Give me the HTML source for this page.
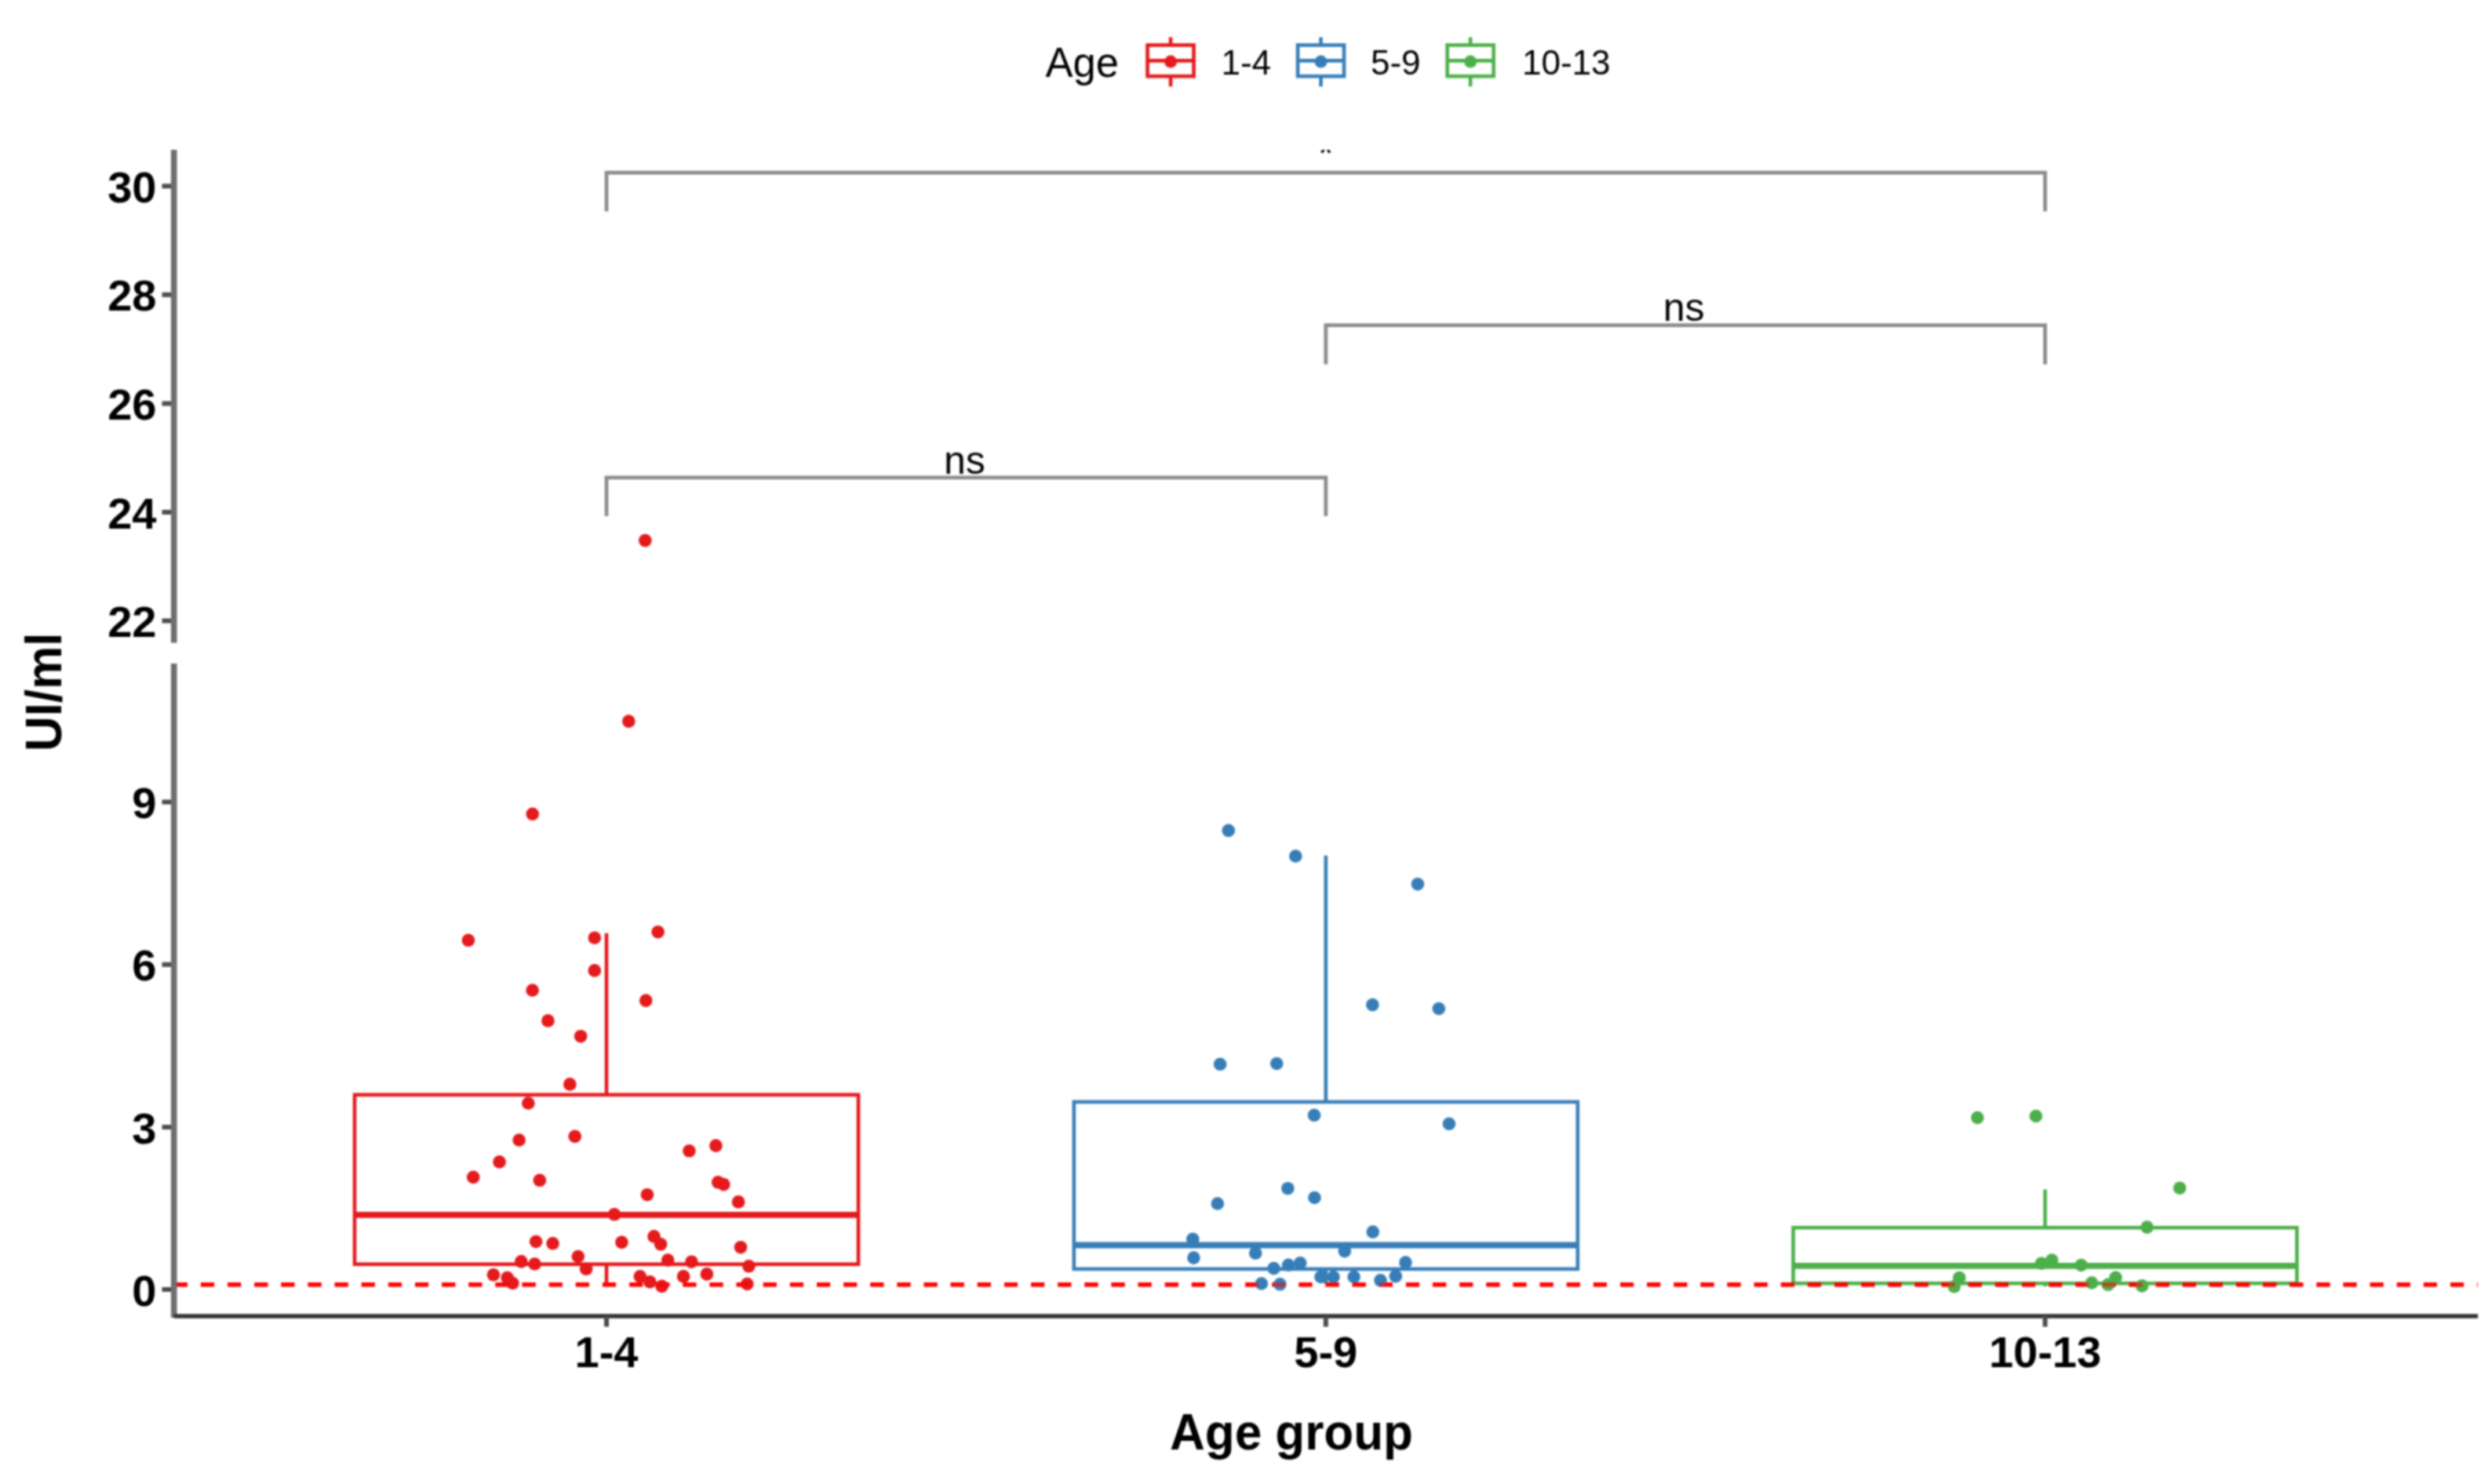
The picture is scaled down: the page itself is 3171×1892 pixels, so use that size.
<!DOCTYPE html>
<html lang="en"><head><meta charset="utf-8"><title>UI/ml by Age group</title>
<style>html,body{margin:0;padding:0;background:#fff}body{width:3171px;height:1892px;overflow:hidden}svg{display:block;filter:blur(1.1px)}text{font-family:"Liberation Sans",Arial,sans-serif;fill:#000}.b{font-weight:700}</style>
</head><body>
<svg width="3171" height="1892" viewBox="0 0 3171 1892">
<rect width="3171" height="1892" fill="#fff"/>
<defs><clipPath id="cp"><rect x="221.8" y="191" width="2940" height="1490"/></clipPath></defs>
<g id="legend">
<text font-size="52" transform="translate(1332.5 98.4) scale(1.01 1.035)">Age</text>
<g stroke="#E41A1C" stroke-width="4.6" fill="none">
<path d="M1492.0 47.5V57.5M1492.0 97.2V110.3"/>
<rect x="1462.5" y="57.5" width="59" height="39.7"/>
<path d="M1462.5 77.4H1521.5"/>
<circle cx="1492.0" cy="78.6" r="8" fill="#E41A1C" stroke="none"/>
</g>
<text x="1556.5" y="95.1" font-size="44">1-4</text>
<g stroke="#377EB8" stroke-width="4.6" fill="none">
<path d="M1683.5 47.5V57.5M1683.5 97.2V110.3"/>
<rect x="1654.0" y="57.5" width="59" height="39.7"/>
<path d="M1654.0 77.4H1713.0"/>
<circle cx="1683.5" cy="78.6" r="8" fill="#377EB8" stroke="none"/>
</g>
<text x="1747.0" y="95.1" font-size="44">5-9</text>
<g stroke="#4DAF4A" stroke-width="4.6" fill="none">
<path d="M1874.1 47.5V57.5M1874.1 97.2V110.3"/>
<rect x="1844.6" y="57.5" width="59" height="39.7"/>
<path d="M1844.6 77.4H1903.6"/>
<circle cx="1874.1" cy="78.6" r="8" fill="#4DAF4A" stroke="none"/>
</g>
<text x="1940.0" y="95.1" font-size="44">10-13</text>
</g>
<g id="brackets" stroke="#8c8c8c" stroke-width="4.8" fill="none" stroke-linejoin="miter">
<path d="M773.0 269.5V220.2H2606.5V269.5"/>
<path d="M1689.8 464.5V414.6H2606.5V464.5"/>
<path d="M773.0 658V608.8H1689.8V658"/>
</g>
<g clip-path="url(#cp)"><text x="1689.8" y="213" font-size="50" text-anchor="middle" fill="#555">*</text></g>
<text x="2146.2" y="409.3" font-size="50" text-anchor="middle" fill="#1a1a1a">ns</text>
<text x="1229.4" y="603.5" font-size="50" text-anchor="middle" fill="#1a1a1a">ns</text>
<g stroke="#E41A1C" fill="none" stroke-width="4.6">
<path d="M773.0 1189.8V1395.8M773.0 1611.8V1638.0"/>
<rect x="452.0" y="1395.8" width="642" height="216.0"/>
<path d="M452.0 1548.8H1094.0" stroke-width="7.8"/>
</g>
<g stroke="#377EB8" fill="none" stroke-width="4.6">
<path d="M1689.8 1090.7V1404.9M1689.8 1617.9V1637.0"/>
<rect x="1368.8" y="1404.9" width="642" height="213.0"/>
<path d="M1368.8 1587.5H2010.8" stroke-width="7.8"/>
</g>
<g stroke="#4DAF4A" fill="none" stroke-width="4.6">
<path d="M2606.5 1516.5V1565.2M2606.5 1636.2V1640.0"/>
<rect x="2285.5" y="1565.2" width="642" height="71.0"/>
<path d="M2285.5 1613.8H2927.5" stroke-width="7.8"/>
</g>
<path d="M221.8 1637.8H3158" stroke="#FF0000" stroke-width="5.6" stroke-dasharray="17.1 17.033" fill="none"/>
<g fill="#E41A1C">
<circle cx="596.9" cy="1198.8" r="8.3"/><circle cx="757.8" cy="1195.7" r="8.3"/><circle cx="838.6" cy="1188.2" r="8.3"/><circle cx="757.8" cy="1237.4" r="8.3"/><circle cx="678.6" cy="1262.5" r="8.3"/><circle cx="823.2" cy="1275.6" r="8.3"/><circle cx="698.4" cy="1301.4" r="8.3"/><circle cx="740.1" cy="1321.2" r="8.3"/><circle cx="726.3" cy="1382.4" r="8.3"/><circle cx="673.3" cy="1406.5" r="8.3"/><circle cx="661.6" cy="1453.5" r="8.3"/><circle cx="732.7" cy="1448.9" r="8.3"/><circle cx="878.4" cy="1467.3" r="8.3"/><circle cx="912.4" cy="1460.6" r="8.3"/><circle cx="636.5" cy="1481.4" r="8.3"/><circle cx="603.2" cy="1500.9" r="8.3"/><circle cx="687.8" cy="1504.8" r="8.3"/><circle cx="915.2" cy="1507.3" r="8.3"/><circle cx="922.3" cy="1510.1" r="8.3"/><circle cx="824.9" cy="1523.2" r="8.3"/><circle cx="941.1" cy="1532.4" r="8.3"/><circle cx="783.0" cy="1548.3" r="8.3"/><circle cx="683.1" cy="1583.0" r="8.3"/><circle cx="704.5" cy="1585.3" r="8.3"/><circle cx="792.4" cy="1583.9" r="8.3"/><circle cx="833.5" cy="1576.4" r="8.3"/><circle cx="842.1" cy="1586.3" r="8.3"/><circle cx="944.0" cy="1590.2" r="8.3"/><circle cx="736.8" cy="1602.0" r="8.3"/><circle cx="664.3" cy="1608.4" r="8.3"/><circle cx="681.5" cy="1611.5" r="8.3"/><circle cx="851.2" cy="1606.6" r="8.3"/><circle cx="881.4" cy="1608.7" r="8.3"/><circle cx="954.4" cy="1614.3" r="8.3"/><circle cx="747.1" cy="1617.8" r="8.3"/><circle cx="628.9" cy="1625.3" r="8.3"/><circle cx="646.6" cy="1629.1" r="8.3"/><circle cx="653.4" cy="1636.0" r="8.3"/><circle cx="815.8" cy="1627.3" r="8.3"/><circle cx="828.3" cy="1634.4" r="8.3"/><circle cx="843.5" cy="1639.9" r="8.3"/><circle cx="871.1" cy="1627.4" r="8.3"/><circle cx="900.9" cy="1624.4" r="8.3"/><circle cx="952.3" cy="1637.0" r="8.3"/><circle cx="801.3" cy="919.6" r="8.3"/><circle cx="678.7" cy="1037.8" r="8.3"/><circle cx="822.3" cy="689.1" r="8.3"/>
</g>
<g fill="#377EB8">
<circle cx="1565.7" cy="1058.9" r="8.3"/><circle cx="1651.3" cy="1091.5" r="8.3"/><circle cx="1806.9" cy="1127.2" r="8.3"/><circle cx="1749.3" cy="1281.1" r="8.3"/><circle cx="1833.8" cy="1286.0" r="8.3"/><circle cx="1555.1" cy="1356.8" r="8.3"/><circle cx="1627.2" cy="1356.0" r="8.3"/><circle cx="1675.0" cy="1421.8" r="8.3"/><circle cx="1846.9" cy="1432.8" r="8.3"/><circle cx="1641.3" cy="1515.2" r="8.3"/><circle cx="1675.4" cy="1527.0" r="8.3"/><circle cx="1551.8" cy="1534.5" r="8.3"/><circle cx="1749.7" cy="1570.6" r="8.3"/><circle cx="1520.2" cy="1579.9" r="8.3"/><circle cx="1521.4" cy="1603.6" r="8.3"/><circle cx="1600.2" cy="1597.7" r="8.3"/><circle cx="1713.8" cy="1595.1" r="8.3"/><circle cx="1623.5" cy="1617.1" r="8.3"/><circle cx="1642.1" cy="1612.8" r="8.3"/><circle cx="1657.2" cy="1610.3" r="8.3"/><circle cx="1791.4" cy="1609.5" r="8.3"/><circle cx="1683.4" cy="1628.0" r="8.3"/><circle cx="1699.4" cy="1628.0" r="8.3"/><circle cx="1725.6" cy="1628.0" r="8.3"/><circle cx="1759.4" cy="1632.3" r="8.3"/><circle cx="1778.8" cy="1627.2" r="8.3"/><circle cx="1607.8" cy="1636.5" r="8.3"/><circle cx="1631.4" cy="1637.3" r="8.3"/>
</g>
<g fill="#4DAF4A">
<circle cx="2520.3" cy="1425.0" r="8.3"/><circle cx="2594.8" cy="1423.0" r="8.3"/><circle cx="2778.1" cy="1514.7" r="8.3"/><circle cx="2736.5" cy="1564.6" r="8.3"/><circle cx="2601.9" cy="1610.7" r="8.3"/><circle cx="2615.1" cy="1606.5" r="8.3"/><circle cx="2652.5" cy="1613.0" r="8.3"/><circle cx="2497.2" cy="1629.0" r="8.3"/><circle cx="2490.7" cy="1640.3" r="8.3"/><circle cx="2666.0" cy="1635.5" r="8.3"/><circle cx="2686.8" cy="1637.8" r="8.3"/><circle cx="2696.5" cy="1628.8" r="8.3"/><circle cx="2730.1" cy="1639.4" r="8.3"/>
</g>
<path d="M221.8 1637.8H3158" stroke="#FF0000" stroke-opacity="0.55" stroke-width="5.6" stroke-dasharray="17.1 17.033" fill="none"/>
<g id="axes" fill="none">
<path d="M221.7 191V819.6M221.7 846.1V1680" stroke="#6e6e6e" stroke-width="7.6"/>
<path d="M221.8 1678H3158.2" stroke="#333" stroke-width="5.3"/>
<path d="M206.5 237.2H218M206.5 375.8H218M206.5 514.4H218M206.5 653.0H218M206.5 791.6H218M206.5 1022.5H218M206.5 1229.7H218M206.5 1436.9H218M206.5 1644.1H218" stroke="#4d4d4d" stroke-width="6"/>
<path d="M773.0 1678V1691.6M1689.8 1678V1691.6M2606.5 1678V1691.6" stroke="#4d4d4d" stroke-width="6"/>
</g>
<g class="b" font-size="56" text-anchor="end">
<text x="199.5" y="257.8">30</text>
<text x="199.5" y="396.4">28</text>
<text x="199.5" y="535.0">26</text>
<text x="199.5" y="673.6">24</text>
<text x="199.5" y="812.2">22</text>
<text x="199.5" y="1043.1">9</text>
<text x="199.5" y="1250.3">6</text>
<text x="199.5" y="1457.5">3</text>
<text x="199.5" y="1664.7">0</text>
</g>
<g class="b" font-size="56" text-anchor="middle">
<text x="773.0" y="1743.2">1-4</text>
<text x="1689.8" y="1743.2">5-9</text>
<text x="2606.5" y="1743.2">10-13</text>
</g>
<text class="b" font-size="62" text-anchor="middle" transform="translate(1646 1848.2) scale(1 1.055)">Age group</text>
<text class="b" font-size="62" text-anchor="middle" transform="translate(77.6 882.3) rotate(-90) scale(1 1.04)">UI/ml</text>
</svg></body></html>
